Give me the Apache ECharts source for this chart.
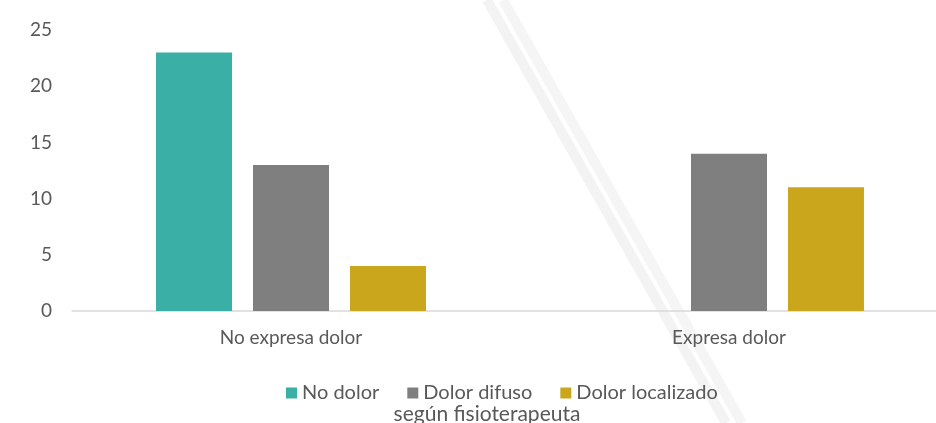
<!DOCTYPE html>
<html>
<head>
<meta charset="utf-8">
<script src="https://cdn.jsdelivr.net/npm/echarts@6/dist/echarts.min.js"></script>
<style>html,body{margin:0;padding:0;background:#fff;overflow:hidden;width:936px;height:423px}#c{width:948px;height:423px}</style>
</head>
<body>
<div id="c"></div>
<script>
const categories = ['No expresa dolor', 'Expresa dolor'];
const seriesNames = ['No dolor', 'Dolor difuso', 'Dolor localizado'];
const noDolor = [23, 0];
const dolorDifuso = [13, 14];
const dolorLocalizado = [4, 11];
const colors = ['#3AAFA5', '#7F7F7F', '#C9A61C'];
const subtitle = 'según fisioterapeuta';

const chart = echarts.init(document.getElementById('c'));
const font = 'Lato, "Open Sans", sans-serif';
const values = [noDolor, dolorDifuso, dolorLocalizado];
chart.setOption({
  animation: false,
  textStyle: { fontFamily: font },
  graphic: [
    { type: 'line', z: -10, shape: { x1: 487, y1: 0, x2: 726, y2: 423 }, style: { stroke: '#f3f3f3', lineWidth: 10 } },
    { type: 'line', z: -10, shape: { x1: 503, y1: 0, x2: 742, y2: 423 }, style: { stroke: '#f5f5f5', lineWidth: 10 } }
  ],
  title: {
    text: subtitle, left: 482, textAlign: 'center', top: 399,
    textStyle: { fontFamily: font, fontSize: 21, fontWeight: 'normal', color: '#595959' }
  },
  legend: {
    left: 281, top: 378, itemWidth: 11, itemHeight: 11, itemGap: 28,
    icon: 'rect',
    textStyle: { fontFamily: font, fontSize: 20, color: '#595959' },
    data: seriesNames
  },
  grid: { left: 72, right: 0, top: 30, bottom: 112, containLabel: false },
  xAxis: {
    type: 'category', data: categories,
    axisLine: { lineStyle: { color: '#d9d9d9', width: 1.5 } },
    axisTick: { show: false },
    axisLabel: { fontFamily: font, fontSize: 19, color: '#595959', margin: 17 }
  },
  yAxis: {
    type: 'value', min: 0, max: 25, interval: 5,
    splitLine: { show: false },
    axisLine: { show: false }, axisTick: { show: false },
    axisLabel: { fontFamily: font, fontSize: 19, color: '#595959', margin: 20 }
  },
  series: seriesNames.map((n, i) => ({
    name: n, type: 'bar', data: values[i],
    barWidth: 76, barGap: '27.6%',
    itemStyle: { color: colors[i] }
  }))
});
</script>
</body>
</html>
